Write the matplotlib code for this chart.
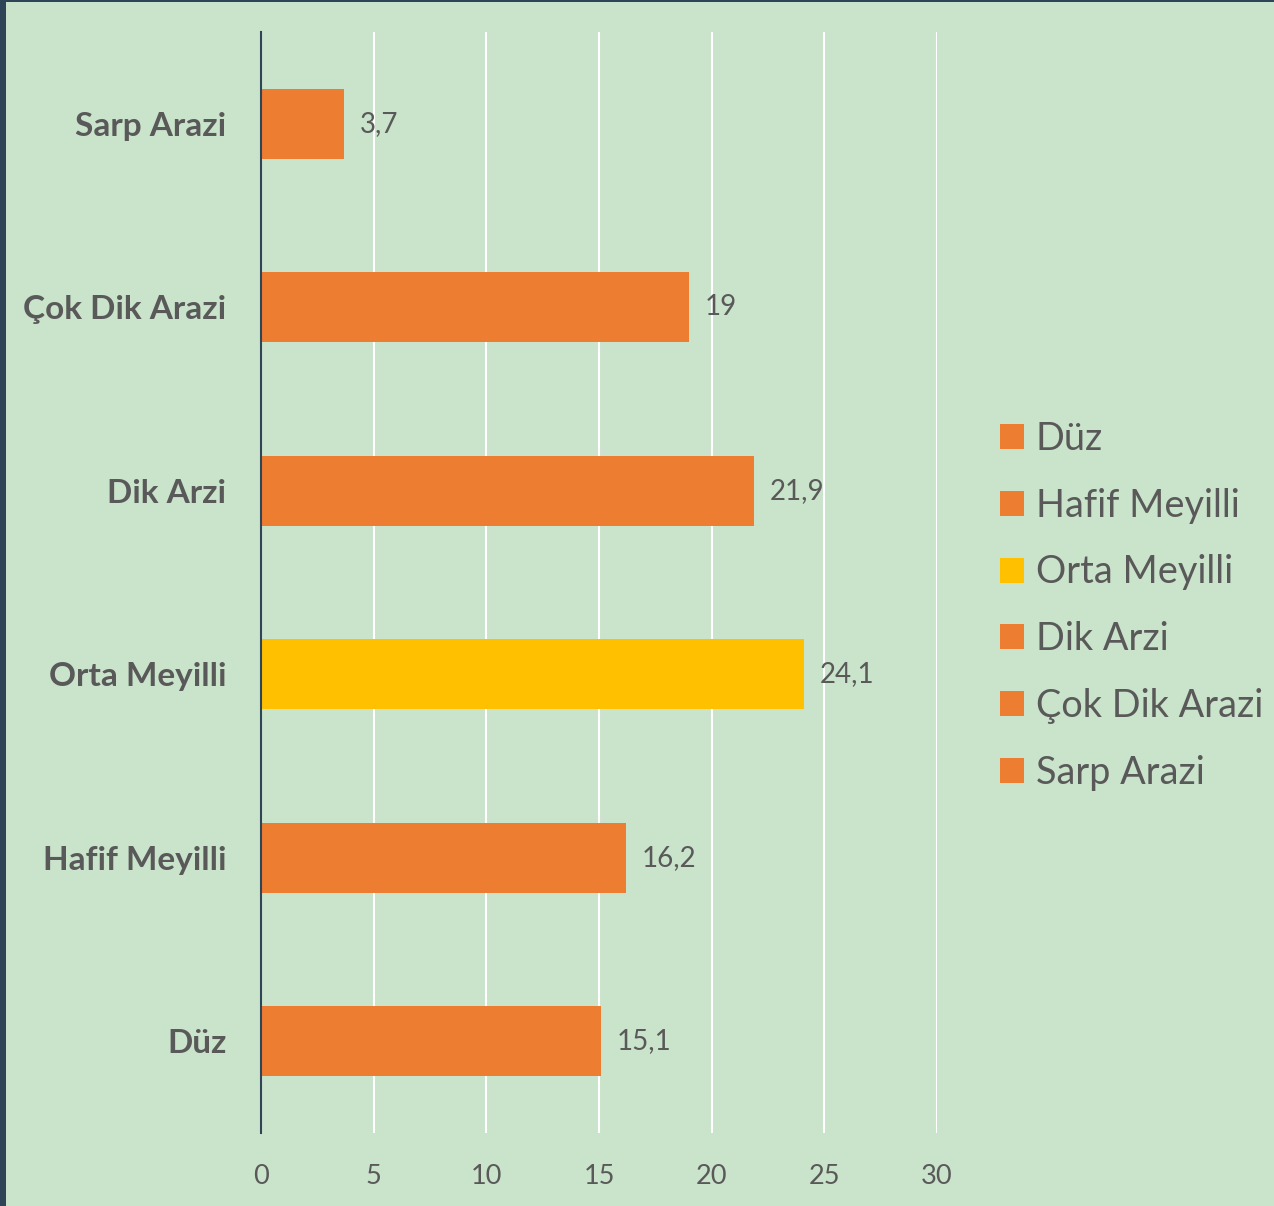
import matplotlib
matplotlib.use("Agg")
import matplotlib.pyplot as plt
from matplotlib.patches import Patch, Rectangle

categories = ["Düz", "Hafif Meyilli", "Orta Meyilli", "Dik Arzi", "Çok Dik Arazi", "Sarp Arazi"]
values = [15.1, 16.2, 24.1, 21.9, 19.0, 3.7]
value_labels = ["15,1", "16,2", "24,1", "21,9", "19", "3,7"]
colors = ["#ED7D31", "#ED7D31", "#FFC000", "#ED7D31", "#ED7D31", "#ED7D31"]
xticks = [0, 5, 10, 15, 20, 25, 30]

BG = "#CAE3CB"
TXT = "#595959"
DARK = "#2E4457"
FONT = ["Lato", "DejaVu Sans"]

plt.rcParams['font.family'] = FONT

fig = plt.figure(figsize=(12.74, 12.06), dpi=100, facecolor=BG)
ax = fig.add_axes([261/1274, 1 - 1133/1206, 676/1274, 1101/1206])
ax.set_facecolor(BG)

ypos = list(range(len(categories)))
bars = ax.barh(ypos, values, height=0.38, color=colors, zorder=3)
ax.set_xlim(0, 30)
ax.set_ylim(-0.5, len(categories) - 0.5)
ax.set_xticks(xticks)
ax.set_xticklabels([str(t) for t in xticks], fontsize=19.5, color=TXT)
ax.set_yticks(ypos)
ax.set_yticklabels(categories, fontsize=24, fontweight="bold", color=TXT)
ax.tick_params(axis="both", length=0)
ax.tick_params(axis="x", pad=22)
ax.tick_params(axis="y", pad=25)
ax.grid(axis="x", color="white", linewidth=1.5, zorder=0)
for s in ["top", "right", "bottom"]:
    ax.spines[s].set_visible(False)
ax.spines["left"].set_color(DARK)
ax.spines["left"].set_linewidth(1.5)
ax.spines["left"].set_zorder(4)

ax.bar_label(bars, labels=value_labels, padding=11, fontsize=20, color=TXT)

handles = [Patch(facecolor=c, edgecolor="none") for c in colors]
leg = fig.legend(handles, categories, loc="upper left",
                 bbox_to_anchor=(1000/1274, 1 - 421/1206),
                 frameon=False, fontsize=27.3, handlelength=0.64, handleheight=0.64,
                 handletextpad=0.3, labelspacing=0.81, borderpad=0, borderaxespad=0)
for t in leg.get_texts():
    t.set_color(TXT)

fig.add_artist(Rectangle((0, 0), 6/1274, 1, transform=fig.transFigure,
                         facecolor=DARK, edgecolor="none", zorder=10))
fig.add_artist(Rectangle((0, 1 - 2/1206), 1, 2/1206, transform=fig.transFigure,
                         facecolor=DARK, edgecolor="none", zorder=10))

fig.savefig("out.png", dpi=100, facecolor=BG)
